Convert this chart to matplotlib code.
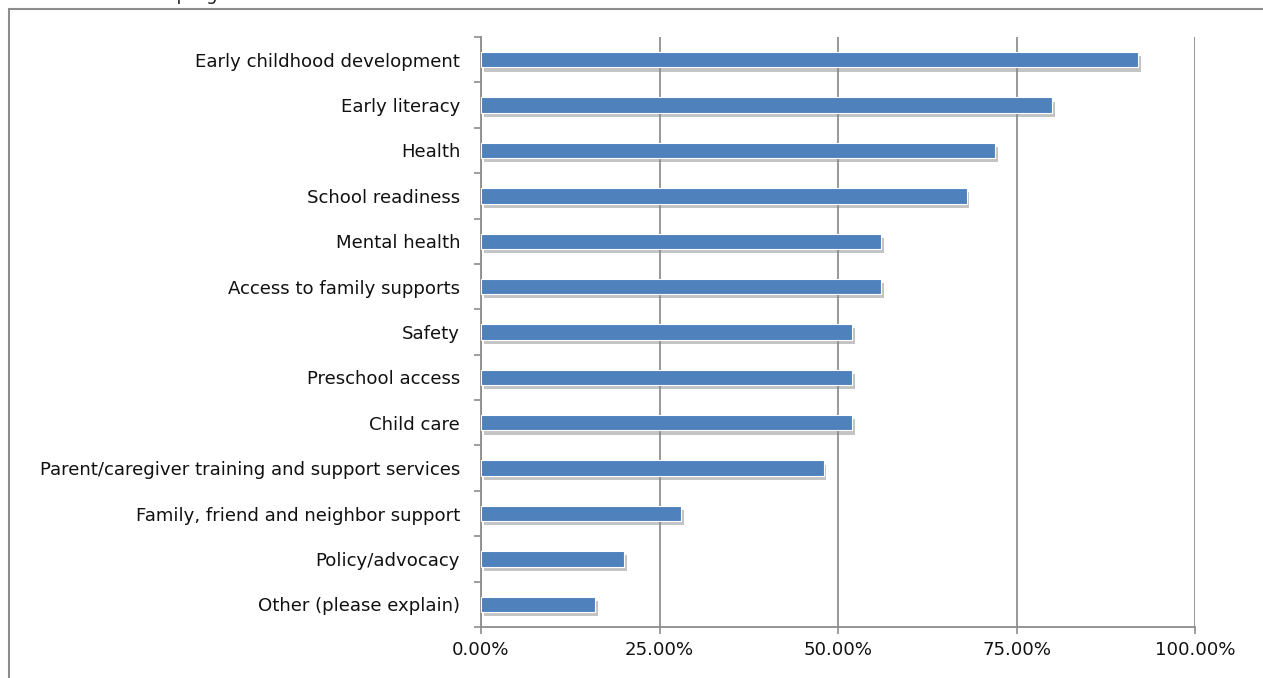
import matplotlib
matplotlib.use("Agg")
import matplotlib.pyplot as plt
import matplotlib.patheffects as pe
from matplotlib.patches import Rectangle
from matplotlib.ticker import FixedLocator, PercentFormatter

# data (share of respondents)
categories = [
    "Early childhood development",
    "Early literacy",
    "Health",
    "School readiness",
    "Mental health",
    "Access to family supports",
    "Safety",
    "Preschool access",
    "Child care",
    "Parent/caregiver training and support services",
    "Family, friend and neighbor support",
    "Policy/advocacy",
    "Other (please explain)",
]
shares = [92, 80, 72, 68, 56, 56, 52, 52, 52, 48, 28, 20, 16]
xticks = [0, 25, 50, 75, 100]

plt.rcParams['font.family'] = ['DejaVu Sans']

fig = plt.figure(figsize=(12.63, 6.78), dpi=100)
ax = fig.add_axes([481 / 1263, 1 - 627 / 678, (1195 - 481) / 1263, (627 - 37) / 678])

# outer chart border (runs off the right and bottom of the picture)
fig.patches.append(Rectangle((8.5 / 1263, -0.05), 1.2, 1 - 8.5 / 678 + 0.05,
                             transform=fig.transFigure, fill=False,
                             edgecolor='#8c8c8c', linewidth=1.5))
# clipped title above the border
fig.text(165 / 1263, 1.0, "  program", ha='left', va='baseline', fontsize=13, color='#222222')

ypos = list(range(len(categories)))
bars = ax.barh(ypos, shares, height=0.34, color='#4f81bd', edgecolor='white',
               linewidth=0.8, zorder=3)
for b in bars:
    b.set_path_effects([pe.SimplePatchShadow(offset=(2, -3), shadow_rgbFace='#8a8a8a', alpha=0.5),
                        pe.Normal()])

ax.set_ylim(len(categories) - 0.5, -0.5)
ax.set_xlim(0, 100)
ax.set_yticks(ypos)
ax.set_yticklabels(categories)
ax.yaxis.set_minor_locator(FixedLocator([i - 0.5 for i in range(len(categories) + 1)]))
ax.tick_params(axis='y', which='major', length=0, pad=15, labelsize=13.1, labelcolor='#111111')
ax.tick_params(axis='y', which='minor', length=5, width=1.2, color='#8c8c8c', direction='out')

ax.set_xticks(xticks)
ax.xaxis.set_major_formatter(PercentFormatter(decimals=2))
ax.tick_params(axis='x', length=5, width=1.2, color='#8c8c8c', direction='out', pad=5,
               labelsize=13.1, labelcolor='#111111')

ax.grid(axis='x', color='#868686', linewidth=1.2, zorder=0)
ax.set_axisbelow(True)
for side in ['top', 'right']:
    ax.spines[side].set_visible(False)
for side in ['left', 'bottom']:
    ax.spines[side].set_color('#8c8c8c')
    ax.spines[side].set_linewidth(1.3)

fig.savefig("out.png", dpi=100)
